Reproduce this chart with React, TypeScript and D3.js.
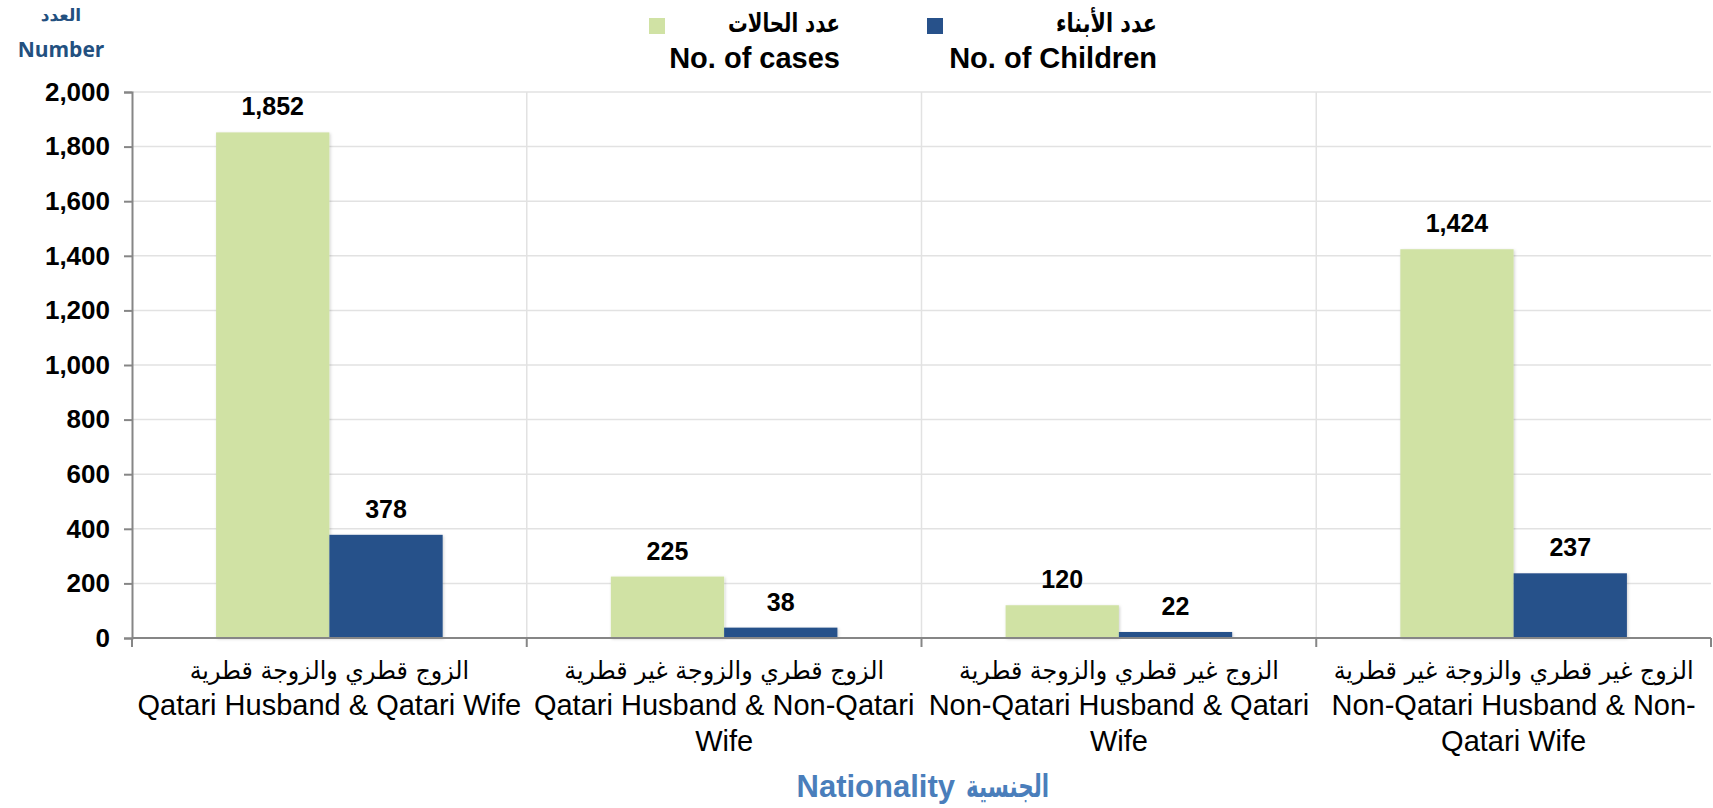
import React, { useEffect, useRef } from "react";
import * as d3 from "d3";

// chart data
const categoryArabic = [
  "الزوج قطري والزوجة قطرية",
  "الزوج قطري والزوجة غير قطرية",
  "الزوج غير قطري والزوجة قطرية",
  "الزوج غير قطري والزوجة غير قطرية",
];
const categoryEnglish = [
  ["Qatari Husband & Qatari Wife"],
  ["Qatari Husband & Non-Qatari", "Wife"],
  ["Non-Qatari Husband & Qatari", "Wife"],
  ["Non-Qatari Husband & Non-", "Qatari Wife"],
];
const seriesKeys = ["cases", "children"];
const seriesArabic = ["عدد الحالات", "عدد الأبناء"];
const seriesEnglish = ["No. of cases", "No. of Children"];
const casesValues = [1852, 225, 120, 1424];
const childrenValues = [378, 38, 22, 237];
const yTickValues = [0, 200, 400, 600, 800, 1000, 1200, 1400, 1600, 1800, 2000];

const FONT = "'Liberation Sans', Arial, 'DejaVu Sans', sans-serif";
const ARABIC_FONT = "'DejaVu Sans', sans-serif";
const GREEN = "#D0E2A4";
const BLUE = "#27518A";

// the fallback Arabic font runs wider than the original, so squeeze it horizontally
function fitWidth(node: SVGTextElement, maxWidth: number) {
  const w = node.getComputedTextLength();
  if (w > maxWidth) {
    node.setAttribute("textLength", String(maxWidth));
    node.setAttribute("lengthAdjust", "spacingAndGlyphs");
  }
}
function condense(node: SVGTextContentElement, factor: number) {
  const w = node.getComputedTextLength();
  node.setAttribute("textLength", String(w * factor));
  node.setAttribute("lengthAdjust", "spacingAndGlyphs");
}

export default function App() {
  const svgRef = useRef<SVGSVGElement>(null);

  useEffect(() => {
    const width = 1713;
    const height = 808;
    const left = 132;
    const right = 1711;
    const top = 92;
    const bottom = 638;

    const svg = d3.select(svgRef.current)
      .attr("width", width)
      .attr("height", height)
      .style("font-family", FONT);
    svg.selectAll("*").remove();

    const defs = svg.append("defs");
    const shadow = defs.append("filter")
      .attr("id", "barShadow")
      .attr("x", "-10%").attr("y", "-10%")
      .attr("width", "120%").attr("height", "120%");
    shadow.append("feDropShadow")
      .attr("dx", 1).attr("dy", 1)
      .attr("stdDeviation", 1.5)
      .attr("flood-color", "#000")
      .attr("flood-opacity", 0.18);

    const x0 = d3.scaleBand<number>()
      .domain(d3.range(categoryArabic.length))
      .range([left, right])
      .paddingInner(0)
      .paddingOuter(0);

    const bw = x0.bandwidth();
    const x1 = d3.scaleBand<string>()
      .domain(seriesKeys)
      .range([bw * 0.213, bw * 0.787]);

    const y = d3.scaleLinear()
      .domain([0, 2000])
      .range([bottom, top]);

    // horizontal gridlines
    svg.append("g")
      .selectAll("line")
      .data(yTickValues.filter(d => d > 0))
      .join("line")
      .attr("x1", left).attr("x2", right)
      .attr("y1", d => y(d)).attr("y2", d => y(d))
      .attr("stroke", "#E2E2E2")
      .attr("stroke-width", 1.5);

    // vertical category gridlines
    svg.append("g")
      .selectAll("line")
      .data(d3.range(1, categoryArabic.length))
      .join("line")
      .attr("x1", d => x0(d)!).attr("x2", d => x0(d)!)
      .attr("y1", top).attr("y2", bottom)
      .attr("stroke", "#E2E2E2")
      .attr("stroke-width", 1.5);

    // bars
    const values = [casesValues, childrenValues];
    const colors = [GREEN, BLUE];
    const groups = svg.append("g")
      .selectAll("g")
      .data(d3.range(categoryArabic.length))
      .join("g")
      .attr("transform", d => `translate(${x0(d)},0)`);

    groups.selectAll("rect")
      .data(ci => seriesKeys.map((k, si) => ({ k, si, v: values[si][ci] })))
      .join("rect")
      .attr("x", d => x1(d.k)!)
      .attr("y", d => y(d.v))
      .attr("width", x1.bandwidth())
      .attr("height", d => bottom - y(d.v))
      .attr("fill", d => colors[d.si])
      .attr("filter", "url(#barShadow)");

    groups.selectAll("text.val")
      .data(ci => seriesKeys.map((k, si) => ({ k, si, v: values[si][ci] })))
      .join("text")
      .attr("class", "val")
      .attr("x", d => x1(d.k)! + x1.bandwidth() / 2)
      .attr("y", d => y(d.v) - 17)
      .attr("text-anchor", "middle")
      .attr("font-size", 25)
      .attr("font-weight", "bold")
      .attr("fill", "#000")
      .text(d => d3.format(",")(d.v));

    // y axis
    const yAxis = d3.axisLeft(y)
      .tickValues(yTickValues)
      .tickSize(8)
      .tickPadding(14)
      .tickFormat(d => d3.format(",")(d as number));
    const gy = svg.append("g")
      .attr("transform", `translate(${left},0)`)
      .call(yAxis);
    gy.select(".domain").attr("stroke", "#868686").attr("stroke-width", 2);
    gy.selectAll(".tick line").attr("stroke", "#868686").attr("stroke-width", 2);
    gy.selectAll(".tick text")
      .attr("font-size", 26)
      .attr("font-weight", "bold")
      .attr("font-family", FONT)
      .attr("fill", "#000");

    // x axis line and boundary ticks
    const gx = svg.append("g");
    gx.append("line")
      .attr("x1", left).attr("x2", right)
      .attr("y1", bottom).attr("y2", bottom)
      .attr("stroke", "#868686")
      .attr("stroke-width", 2);
    gx.selectAll("line.tick")
      .data(d3.range(0, categoryArabic.length + 1))
      .join("line")
      .attr("class", "tick")
      .attr("x1", d => left + d * bw).attr("x2", d => left + d * bw)
      .attr("y1", bottom).attr("y2", bottom + 9)
      .attr("stroke", "#868686")
      .attr("stroke-width", 2);

    // category labels: Arabic line then the English lines
    const labels = svg.append("g");
    d3.range(categoryArabic.length).forEach(ci => {
      const cx = x0(ci)! + bw / 2;
      const ar = labels.append("text")
        .attr("x", cx)
        .attr("y", 679)
        .attr("text-anchor", "middle")
        .attr("font-family", ARABIC_FONT)
        .attr("font-size", 25)
        .attr("fill", "#000")
        .text(categoryArabic[ci]);
      condense(ar.node() as SVGTextElement, 0.95);
      const en = labels.append("text")
        .attr("text-anchor", "middle")
        .attr("font-size", 29)
        .attr("fill", "#000");
      categoryEnglish[ci].forEach((line, li) => {
        en.append("tspan")
          .attr("x", cx)
          .attr("y", 715 + li * 36)
          .text(line);
      });
    });

    // axis titles
    svg.append("text")
      .attr("x", 61).attr("y", 21)
      .attr("text-anchor", "middle")
      .attr("font-family", ARABIC_FONT)
      .attr("font-size", 17)
      .attr("font-weight", "bold")
      .attr("fill", "#23507F")
      .text("العدد");
    svg.append("text")
      .attr("x", 61).attr("y", 57)
      .attr("text-anchor", "middle")
      .attr("font-family", "'Open Sans', sans-serif")
      .attr("font-size", 21)
      .attr("font-weight", "bold")
      .attr("fill", "#23507F")
      .text("Number");

    svg.append("text")
      .attr("x", 955).attr("y", 797)
      .attr("text-anchor", "end")
      .attr("font-size", 31)
      .attr("font-weight", "bold")
      .attr("fill", "#4A7EBB")
      .text("Nationality");
    const arTitle = svg.append("text")
      .attr("x", 966).attr("y", 797)
      .attr("text-anchor", "start")
      .attr("font-family", ARABIC_FONT)
      .attr("font-size", 31)
      .attr("font-weight", "bold")
      .attr("fill", "#4A7EBB")
      .text("الجنسية");
    fitWidth(arTitle.node() as SVGTextElement, 83);

    // legend
    const legendSquareX = [649, 927];
    const legendTextX = [840, 1157];
    const legendArabicWidth = [112, 101];
    const legend = svg.append("g")
      .selectAll("g")
      .data(d3.range(seriesKeys.length))
      .join("g");
    legend.append("rect")
      .attr("x", d => legendSquareX[d])
      .attr("y", 18)
      .attr("width", 16)
      .attr("height", 16)
      .attr("fill", d => colors[d]);
    legend.append("text")
      .attr("x", d => legendTextX[d])
      .attr("y", 32)
      .attr("text-anchor", "end")
      .attr("font-family", ARABIC_FONT)
      .attr("font-size", 26)
      .attr("font-weight", "bold")
      .attr("fill", "#000")
      .text(d => seriesArabic[d])
      .each(function (d) { fitWidth(this as SVGTextElement, legendArabicWidth[d]); });
    legend.append("text")
      .attr("x", d => legendTextX[d])
      .attr("y", 68)
      .attr("text-anchor", "end")
      .attr("font-size", 29)
      .attr("font-weight", "bold")
      .attr("fill", "#000")
      .text(d => seriesEnglish[d]);
  }, []);

  return (
    <div style={{ position: "absolute", left: 0, top: 0 }}>
      <svg ref={svgRef} style={{ display: "block" }}></svg>
    </div>
  );
}
